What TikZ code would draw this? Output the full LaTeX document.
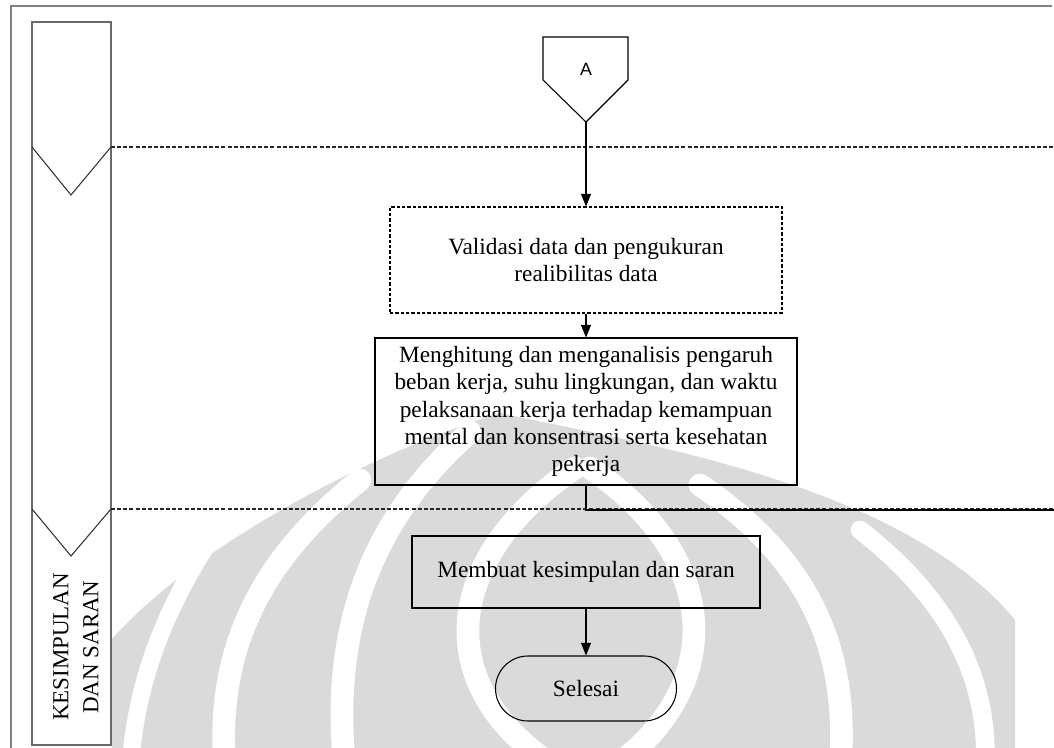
\documentclass[tikz,border=0pt]{standalone}
\usepackage{fontspec}
\setmainfont{Liberation Serif}
\newfontfamily\arialf{Liberation Sans}
\usetikzlibrary{arrows.meta,shapes.misc}
\definecolor{framegray}{HTML}{808080}
\definecolor{lanegray}{HTML}{6A6A6A}
\definecolor{wmgray}{HTML}{DADADA}
\begin{document}
\begin{tikzpicture}[x=0.75pt,y=-0.75pt,
  txt/.style={font=\fontsize{17.5}{20.4}\selectfont, align=center},
  box/.style={draw=black, line width=0.8pt, rectangle, inner sep=0pt, txt},
  dbox/.style={box, dash pattern=on 2.5pt off 1.5pt},
  term/.style={draw=black, line width=0.8pt, rounded rectangle, inner sep=0pt, txt},
  arr/.style={-{Triangle[length=9.5pt,width=7.5pt]}, line width=0.8pt},
  conn/.style={line width=0.8pt},
  lanesep/.style={draw=black!85, line width=0.8pt, dash pattern=on 3pt off 1.6pt},
  chev/.style={draw=black!80, line width=0.8pt},
  wmband/.style={draw=white, line width=17pt, line cap=round}
]
\useasboundingbox (0,0) rectangle (1054,748);
% watermark (background)
\begin{scope}
\clip (112,380) rectangle (1054,748);
\fill[wmgray] (111,748) -- (111,640) .. controls (200,540) and (380,450) .. (500,413)
  .. controls (620,440) and (900,480) .. (1015,620) -- (1015,748) -- cycle;
\draw[wmband, line width=13pt] (205,548) .. controls (160,620) and (135,690) .. (130,770);
\draw[wmband] (360,480) .. controls (260,560) and (215,650) .. (225,770);
\draw[wmband] (470,432) .. controls (370,520) and (330,630) .. (345,770);
\draw[wmband] (575,468) .. controls (440,560) and (430,690) .. (560,770);
\draw[wmband] (590,468) .. controls (725,560) and (725,690) .. (610,770);
\draw[wmband] (700,485) .. controls (810,560) and (850,650) .. (840,770);
\draw[wmband, line width=14pt] (860,530) .. controls (950,600) and (990,680) .. (985,770);
\end{scope}
% outer frame (top and left)
\draw[framegray, line width=1.6pt] (11,748) -- (11,6) -- (1052,6);
% lane column
\draw[lanegray, line width=1.1pt] (32,745) rectangle (111,22);
\draw[chev] (32,147) -- (71,195) -- (111,147);
\draw[chev] (32,509) -- (71,556) -- (111,509);
\draw[lanesep] (111,147) -- (1054,147);
\draw[lanesep] (111,509) -- (1054,509);
\node[txt, rotate=90, font=\fontsize{17.2}{22.5}\selectfont] (lane) at (76,647) {KESIMPULAN\\DAN SARAN};
% off-page connector A
\draw[line width=0.8pt] (543,37) -- (628,37) -- (628,80) -- (586,122) -- (543,80) -- cycle;
\node[font=\arialf\fontsize{13.3}{16}\selectfont] (A) at (586,69) {A};
\coordinate (Atip) at (586,122);
% process nodes
\node[dbox, minimum width=294pt, minimum height=79.5pt] (val) at (586,260)
  {Validasi data dan pengukuran\\realibilitas data};
\node[box, minimum width=316.5pt, minimum height=110.25pt] (hit) at (586,411.5)
  {Menghitung dan menganalisis pengaruh\\beban kerja, suhu lingkungan, dan waktu\\pelaksanaan kerja terhadap kemampuan\\mental dan konsentrasi serta kesehatan\\pekerja};
\node[box, minimum width=261pt, minimum height=54pt] (buat) at (586,572)
  {Membuat kesimpulan dan saran};
\node[term, minimum width=135.75pt, minimum height=48.75pt] (end) at (586,688.5) {Selesai};
\coordinate (out) at (1054,510);
% connectors
\draw[arr] (Atip) -- (val.north);
\draw[arr] (val.south) -- (hit.north);
\draw[conn] (hit.south) -- (hit.south |- out) -- (out);
\draw[arr] (buat.south) -- (end.north);
\end{tikzpicture}
\end{document}
